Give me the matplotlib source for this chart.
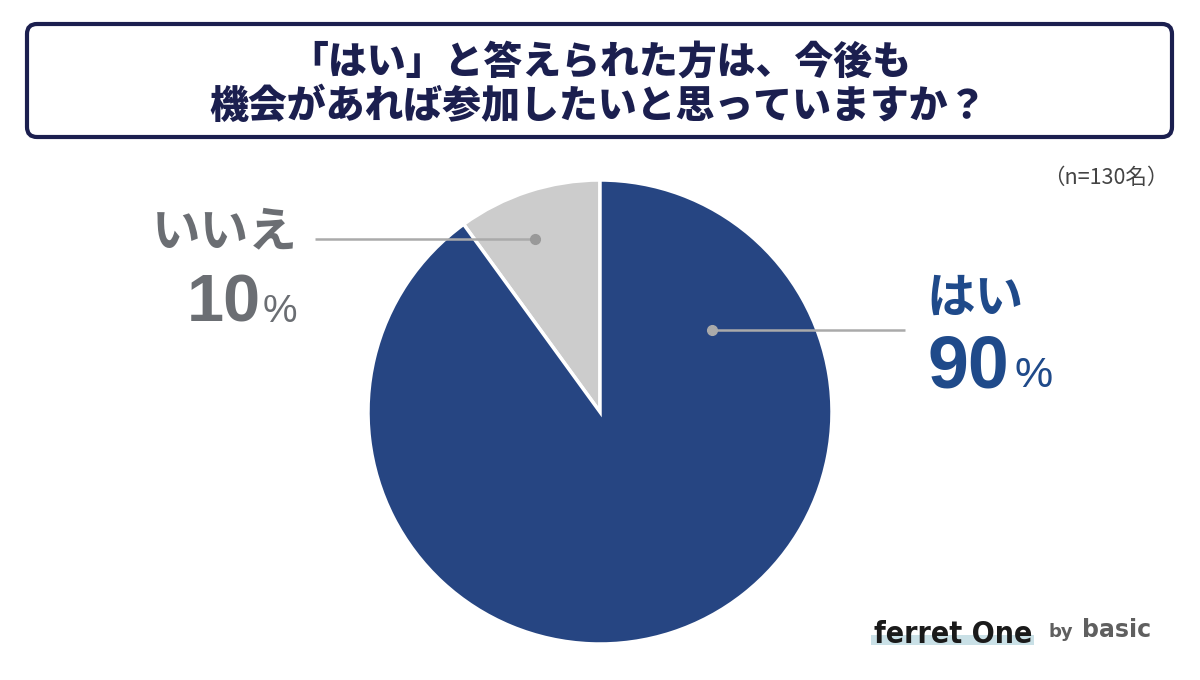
import matplotlib.pyplot as plt
from matplotlib.patches import FancyBboxPatch

# data
labels = ["はい", "いいえ"]
values = [90, 10]
colors = ["#264582", "#cccccc"]
n_resp = 130
title_lines = ["「はい」と答えられた方は、今後も", "機会があれば参加したいと思っていますか？"]

JP = ["Noto Sans CJK JP", "DejaVu Sans"]
NAVY = "#1b1f4f"

fig = plt.figure(figsize=(12, 6.8), dpi=100)
W, H = 1200, 680

# pie axes, center (600,412) radius 231 px
cx, cy, r = 600, 412, 232
axp = fig.add_axes([(cx - r) / W, (H - cy - r) / H, 2 * r / W, 2 * r / H])
axp.pie(values[::-1], colors=colors[::-1], startangle=90, counterclock=True,
        radius=1, wedgeprops=dict(edgecolor="white", linewidth=2.5))
axp.set_xlim(-1, 1)
axp.set_ylim(-1, 1)
axp.set_aspect("equal")
axp.axis("off")

# overlay in pixel coordinates
ax = fig.add_axes([0, 0, 1, 1], facecolor="none")
ax.set_xlim(0, W)
ax.set_ylim(H, 0)
ax.axis("off")

box = FancyBboxPatch((27, 24), 1145, 113, boxstyle="round,pad=0,rounding_size=10",
                     fc="white", ec=NAVY, lw=3)
ax.add_patch(box)
ax.text(600, 62, title_lines[0], ha="center", va="center", fontsize=28,
        fontweight="heavy", color=NAVY, family=JP)
ax.text(598, 106, title_lines[1], ha="center", va="center", fontsize=28,
        fontweight="heavy", color=NAVY, family=JP)

ax.text(1168, 178, f"（n={n_resp}名）", ha="right", va="center", fontsize=15.5,
        color="#444444", family=JP)

# leader lines
ax.plot([315, 535], [239, 239], color="#aaaaaa", lw=1.8, solid_capstyle="butt")
ax.plot([535], [239], "o", color="#999999", ms=7)
ax.plot([712, 905], [330, 330], color="#aaaaaa", lw=1.8, solid_capstyle="butt")
ax.plot([712], [330], "o", color="#aaaaaa", ms=7)

# labels
GRAY_T = "#6b6e73"
BLUE_T = "#1f4a8a"
ax.text(298, 232, labels[1], ha="right", va="center", fontsize=35,
        fontweight="bold", color=GRAY_T, family=JP)
ax.text(261, 322, f"{values[1]}", ha="right", va="baseline", fontsize=48,
        fontweight="bold", color=GRAY_T, family="Liberation Sans")
ax.text(263, 322, "%", ha="left", va="baseline", fontsize=28,
        color=GRAY_T, family="Liberation Sans")

ax.text(926, 298, labels[0], ha="left", va="center", fontsize=35,
        fontweight="bold", color=BLUE_T, family=JP)
ax.text(928, 387, f"{values[0]}", ha="left", va="baseline", fontsize=53,
        fontweight="bold", color=BLUE_T, family="Liberation Sans")
ax.text(1014, 387, "%", ha="left", va="baseline", fontsize=31,
        color=BLUE_T, family="Liberation Sans")

# logo
ax.add_patch(plt.Rectangle((871, 635), 163, 10, color="#c9e0e6", lw=0))
ax.text(874, 643, "ferret One", ha="left", va="baseline", fontsize=21.7,
        fontweight="bold", fontstretch="condensed", color="#1a1a1a",
        family="DejaVu Sans")
ax.text(1048, 637, "by", ha="left", va="baseline", fontsize=13,
        fontweight="bold", color="#5f5f5f", family="DejaVu Sans")
ax.text(1082, 637, "basic", ha="left", va="baseline", fontsize=17,
        fontweight="bold", color="#5f5f5f", family="DejaVu Sans")

fig.savefig("out.png", dpi=100)
